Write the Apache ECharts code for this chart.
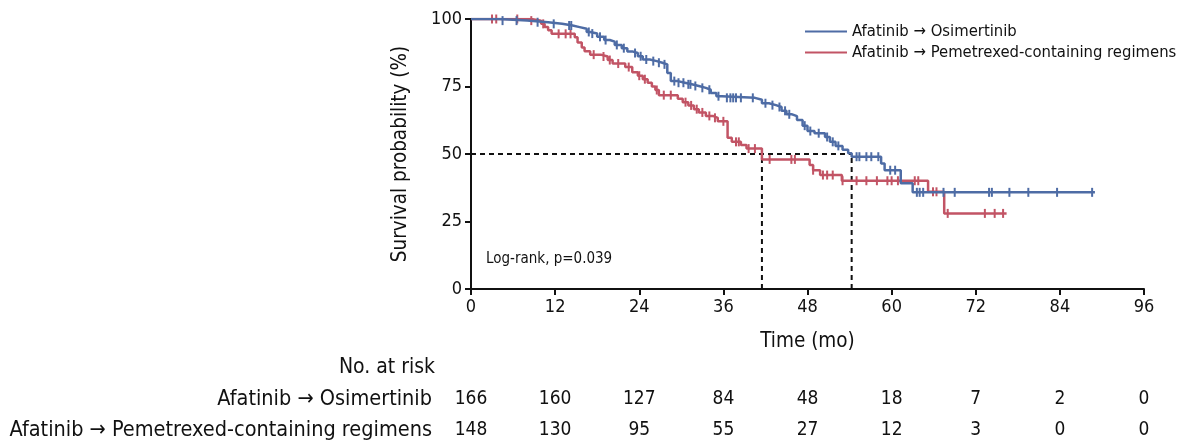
<!DOCTYPE html>
<html>
<head>
<meta charset="utf-8">
<script src="https://cdn.jsdelivr.net/npm/echarts@6/dist/echarts.min.js"></script>
<style>
  html, body { margin: 0; padding: 0; background: #fff; }
  #chart { width: 1182px; height: 446px; }
</style>
</head>
<body>
<div id="chart"></div>
<script>
// at-risk table
const riskMonths = [0, 12, 24, 36, 48, 60, 72, 84, 96]
const osiRisk = [166, 160, 127, 84, 48, 18, 7, 2, 0]
const pemRisk = [148, 130, 95, 55, 27, 12, 3, 0, 0]

const osiName = 'Afatinib \u2192 Osimertinib'
const pemName = 'Afatinib \u2192 Pemetrexed-containing regimens'

// KM steps (months, survival %)
const osiTime = [0, 4, 8, 11, 13, 14.5, 15.5, 16.5, 17, 18, 19, 19.8, 20.5, 21.5, 22.3, 23, 23.8, 24.5, 25.5,
  26.5, 27.3, 28, 28.5, 29.5, 30.5, 31.5, 32.5, 33.5, 34.2, 35, 35.8, 40.5, 41.5, 42.5, 43.5, 44.3, 45,
  45.8, 46.5, 47.3, 48, 49, 50.5, 51.2, 52, 53, 53.8, 54.3, 58.5, 59, 61.3, 63, 89]
const osiSurv = [100, 99.4, 98.8, 98.2, 97.6, 97, 96.4, 95.2, 94.6, 93.4, 92.2, 91.6, 90.4, 89.2, 88, 87.4, 86.2, 85, 84.4,
  83.8, 83.2, 80, 77, 76.4, 75.8, 75.2, 74.5, 73.8, 72.6, 71.4, 70.8, 70.1, 68.8, 68.1, 67.4, 66, 64.7,
  64, 62.6, 60.5, 58.5, 57.7, 56.3, 54.5, 53, 51.6, 50.3, 49, 46.5, 44, 39.2, 35.8, 35.8]

const pemTime = [0, 8.6, 10, 10.5, 11, 11.5, 14.8, 15.2, 15.8, 16.2, 17, 18.5, 19.5, 20.2, 22, 23, 23.8, 24.5, 25.2,
  25.8, 26.3, 26.8, 29.5, 30.2, 31, 31.8, 32.5, 33.5, 34.5, 35.2, 36.6, 37.2, 38.5, 39.3, 41.5, 48.3, 48.8,
  49.8, 52.9, 65.2, 67.5, 76.4]
const pemSurv = [100, 99.4, 98.2, 97, 95.8, 94.5, 93.2, 91.3, 89.4, 88.1, 86.8, 86.1, 84.8, 83.5, 82.2, 80.3, 79, 77.7, 76.4,
  75, 73.7, 71.8, 70.5, 69.2, 68, 66.6, 65.4, 64.1, 63.4, 62.1, 56, 54.5, 53.3, 52, 48, 45.9, 44,
  42.2, 40.1, 36, 28, 28]

// censoring times
const osiCensor = [4.5, 6.5, 9.5, 11.8, 14, 14.3, 16.8, 17.3, 18.4, 19.2, 20.8, 21.8, 23.4, 24.2, 25, 26, 26.8, 27.6,
  29, 29.6, 30.3, 31, 31.3, 32, 33, 34, 35.3, 36.5, 37, 37.4, 37.8, 38.5, 40.2, 42, 43, 44, 44.8, 45.4, 47.6,
  48.4, 49.6, 50.8, 51.6, 52.4, 55, 55.4, 56.4, 57.1, 58.1, 59.8, 60.5, 63.6, 64, 64.5, 67.4, 69, 73.9, 74.3,
  76.8, 79.5, 83.6, 88.6]
const pemCensor = [3, 3.6, 6.6, 8.6, 10.3, 12.5, 13.5, 14.2, 17.5, 18.9, 19.8, 21, 22.5, 24, 24.8, 26.5, 27.5, 28.5,
  30.6, 31.4, 32.2, 33, 34, 34.8, 36, 37.8, 38.2, 39.6, 40.5, 42.6, 45.7, 46.2, 48.8, 50.2, 50.8, 51.6, 53, 55,
  56.4, 57.9, 59.4, 60, 60.9, 63.3, 63.8, 65.9, 66.4, 68, 73.3, 74.7, 75.9]

const osiMedian = 54.3
const pemMedian = 41.5

const blue = '#4e6ca5'
const red = '#c25465'
const font = "'Liberation Sans Narrow', 'DejaVu Sans Condensed', 'Roboto Condensed', Roboto, sans-serif"

const zip = (a, b) => a.map((v, i) => [v, b[i]])
const survAt = (times, surv, t) => {
  let s = surv[0]
  for (let i = 0; i < times.length; i++) if (times[i] <= t) s = surv[i]
  return s
}
const censorPts = (c, times, surv) => c.map(t => [t, survAt(times, surv, t)])

const chart = echarts.init(document.getElementById('chart'))

const tickText = { color: '#111', fontSize: 18, fontFamily: font }
const nameText = { color: '#111', fontSize: 20.5, fontFamily: font }
const riskLabel = {
  show: true, position: 'inside', formatter: p => p.value[2],
  color: '#111', fontSize: 19, fontFamily: font, textBorderWidth: 0
}
const tableTop = 384

chart.setOption({
  animation: false,
  textStyle: { fontFamily: font },
  legend: {
    data: [osiName, pemName],
    orient: 'vertical',
    left: 800,
    top: 18,
    itemWidth: 42,
    itemHeight: 10,
    itemGap: 4,
    icon: 'path://M0,4 L42,4 L42,6 L0,6 Z',
    textStyle: { color: '#111', fontSize: 16.5, fontFamily: font }
  },
  graphic: [
    { type: 'text', left: 486, top: 252, style: { text: 'Log-rank, p=0.039', fontSize: 15, fontFamily: font, fill: '#111' } },
    { type: 'text', right: 1182 - 435, top: 357, style: { text: 'No. at risk', fontSize: 21, fontFamily: font, fill: '#111' } }
  ],
  grid: [
    { left: 471, right: 38, top: 19, bottom: 157 },
    { left: 471, right: 38, top: tableTop, height: 64 }
  ],
  xAxis: [
    {
      gridIndex: 0, type: 'value', min: 0, max: 96, interval: 12,
      name: 'Time (mo)', nameLocation: 'middle', nameGap: 42,
      nameTextStyle: nameText,
      axisLine: { lineStyle: { color: '#111', width: 2 } },
      axisTick: { length: 6, lineStyle: { color: '#111', width: 2 } },
      axisLabel: Object.assign({ margin: 9 }, tickText),
      splitLine: { show: false }
    },
    {
      gridIndex: 1, type: 'value', min: 0, max: 96, interval: 12, show: false
    }
  ],
  yAxis: [
    {
      gridIndex: 0, type: 'value', min: 0, max: 100, interval: 25,
      name: 'Survival probability (%)', nameLocation: 'middle', nameGap: 60,
      nameTextStyle: nameText,
      axisLine: { show: true, lineStyle: { color: '#111', width: 2 } },
      axisTick: { show: true, length: 6, lineStyle: { color: '#111', width: 2 } },
      axisLabel: Object.assign({ margin: 9 }, tickText),
      splitLine: { show: false }
    },
    {
      gridIndex: 1, type: 'category', inverse: true, data: [osiName, pemName],
      axisLine: { show: false }, axisTick: { show: false },
      axisLabel: { margin: 39, color: '#111', fontSize: 21.5, fontFamily: font }
    }
  ],
  series: [
    {
      type: 'line', xAxisIndex: 0, yAxisIndex: 0, data: [[0, 50], [osiMedian, 50]],
      symbol: 'none', silent: true, z: 1,
      lineStyle: { color: '#111', width: 2, type: [5, 4] }
    },
    {
      type: 'line', xAxisIndex: 0, yAxisIndex: 0, data: [[pemMedian, 0], [pemMedian, 50]],
      symbol: 'none', silent: true, z: 1,
      lineStyle: { color: '#111', width: 2, type: [5, 4] }
    },
    {
      type: 'line', xAxisIndex: 0, yAxisIndex: 0, data: [[osiMedian, 0], [osiMedian, 50]],
      symbol: 'none', silent: true, z: 1,
      lineStyle: { color: '#111', width: 2, type: [5, 4] }
    },
    {
      name: pemName, type: 'line', step: 'end', data: zip(pemTime, pemSurv),
      symbol: 'none', z: 3, color: red, lineStyle: { color: red, width: 2.5 }
    },
    {
      name: osiName, type: 'line', step: 'end', data: zip(osiTime, osiSurv),
      symbol: 'none', z: 4, color: blue, lineStyle: { color: blue, width: 2.5 }
    },
    {
      name: 'pemCensor', type: 'scatter', data: censorPts(pemCensor, pemTime, pemSurv),
      symbol: 'rect', symbolSize: [2, 9], z: 3, itemStyle: { color: red, opacity: 1 }
    },
    {
      name: 'osiCensor', type: 'scatter', data: censorPts(osiCensor, osiTime, osiSurv),
      symbol: 'rect', symbolSize: [2, 9], z: 4, itemStyle: { color: blue, opacity: 1 }
    },
    {
      type: 'scatter', xAxisIndex: 1, yAxisIndex: 1, symbolSize: 0, itemStyle: { opacity: 1 },
      data: riskMonths.map((m, i) => [m, 0, osiRisk[i]]),
      label: riskLabel
    },
    {
      type: 'scatter', xAxisIndex: 1, yAxisIndex: 1, symbolSize: 0, itemStyle: { opacity: 1 },
      data: riskMonths.map((m, i) => [m, 1, pemRisk[i]]),
      label: riskLabel
    }
  ]
})
</script>
</body>
</html>
